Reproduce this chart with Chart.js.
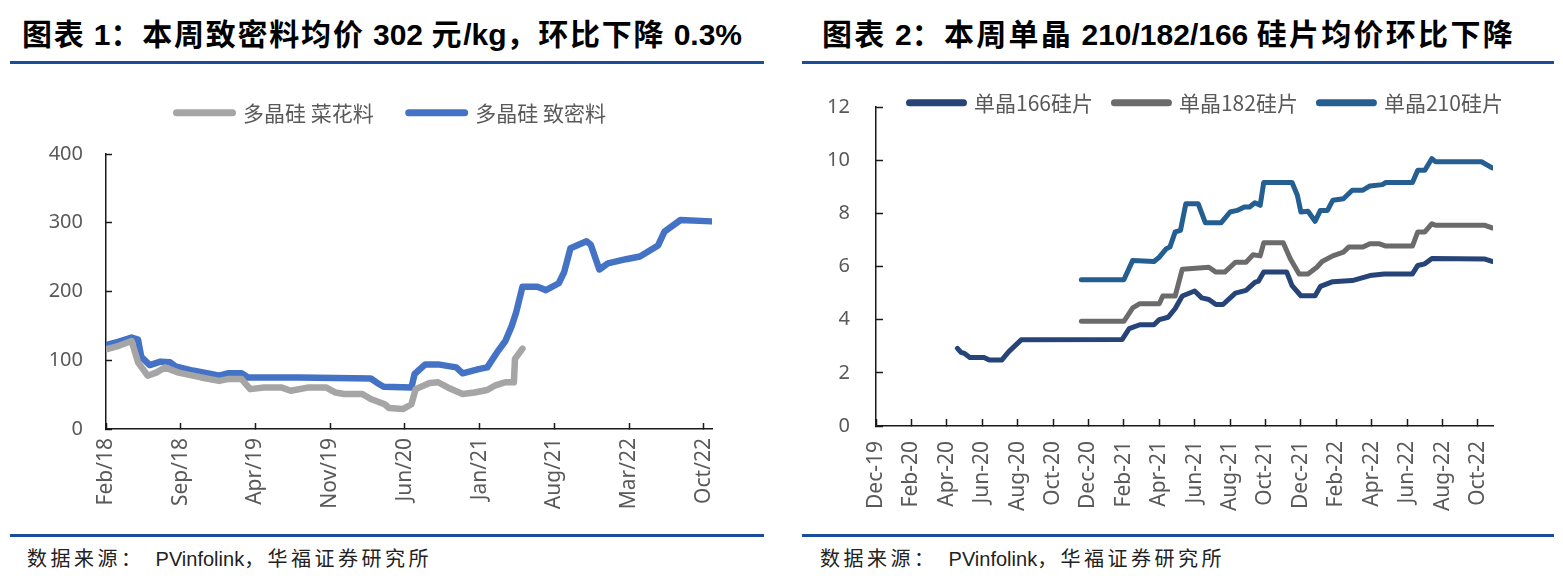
<!DOCTYPE html>
<html><head><meta charset="utf-8">
<script src="https://cdn.jsdelivr.net/npm/chart.js@4.4.1/dist/chart.umd.min.js"></script>
<style>
html,body{margin:0;padding:0;background:#fff;}
body{width:1563px;height:587px;position:relative;overflow:hidden;}
.title{position:absolute;top:16px;font-family:"Liberation Sans","Noto Sans CJK SC",sans-serif;font-weight:bold;font-size:30px;line-height:38px;color:#000;white-space:nowrap;}
.rule{position:absolute;height:3px;background:#1B4C9C;}
.src{position:absolute;top:546px;font-family:"Liberation Sans","Noto Sans CJK SC",sans-serif;font-size:20px;line-height:26px;color:#222;white-space:nowrap;}
.lat{letter-spacing:0 !important;}
canvas{position:absolute;}
</style></head><body>
<div class="title" id="t1" style="left:22px">图表<span class="lat"> 1</span>：本周致密料均价<span class="lat"> 302 </span>元<span class="lat">/kg</span>，环比下降<span class="lat"> 0.3%</span></div>
<div class="title" id="t2" style="left:822px">图表<span class="lat"> 2</span>：本周单晶<span class="lat"> 210/182/166 </span>硅片均价环比下降</div>
<div class="rule" style="left:10px;top:61px;width:754px"></div>
<div class="rule" style="left:802px;top:61px;width:752px"></div>
<div class="rule" style="left:10px;top:534px;width:754px"></div>
<div class="rule" style="left:802px;top:534px;width:752px"></div>
<div class="src" id="s1" style="left:27px">数据来源：<span class="lat">&nbsp;&nbsp;PVinfolink</span>，华福证券研究所</div>
<div class="src" id="s2" style="left:820px">数据来源：<span class="lat">&nbsp;&nbsp;PVinfolink</span>，华福证券研究所</div>
<canvas id="c1" width="740" height="460" style="left:10px;top:70px;width:740px;height:460px"></canvas>
<canvas id="c2" width="735" height="480" style="left:795px;top:50px;width:735px;height:480px"></canvas>
<script>
// ---------- Chart 1 data (x = months since Feb 2018) ----------
const c1TickLabels = ['Feb/18','Sep/18','Apr/19','Nov/19','Jun/20','Jan/21','Aug/21','Mar/22','Oct/22'];
const c1TickMonths = [0,7,14,21,28,35,42,49,56];
const c1YTicks = [0,100,200,300,400];
const c1SeriesNames = ['多晶硅 菜花料','多晶硅 致密料'];
const flowerX = [0,1.2,2.4,3.0,3.9,4.7,5.5,6.8,8.9,10.6,11.4,12.7,13.5,14.8,16.4,17.3,19.0,20.6,21.5,22.3,24.0,24.8,26.1,26.5,27.8,28.6,29.0,30.3,31.1,32.0,33.4,34.5,35.7,36.4,37.4,38.2,38.3,39.0];
const flowerY = [116,121,128,97,77.5,82,89.6,82,75,70,72.6,72.6,58,60.5,60.5,55.7,60.5,60.5,53,51,51,43.6,36,30.5,29,36,58,67,68,60.5,51,53,56.7,63,68,68,102,117];
const denseX = [0,1.2,2.4,3.0,3.3,4.1,5.1,6.0,6.5,8.1,9.8,10.6,11.4,12.7,13.3,18,24.8,25.4,26,28.6,28.9,29.9,31.1,32.8,33.4,34.9,35.7,36.6,37.4,38.0,38.4,39.0,40.4,41.2,42.4,42.9,43.5,45.0,45.4,46.2,47.0,48.7,50.0,51.7,52.3,53.8,56.7];
const denseY = [122,127,133,130,105,93,98,97,91,85,80,77.5,81,81,75,75,73.5,67,61.5,60.5,80,94,94,89.6,81,87,89.6,111,128,150,169,207,207,202,212,228,263,273,268,232,241,247,251,267,287,304,302];

// ---------- Chart 2 data (x = months since Dec 2019) ----------
const c2TickLabels = ['Dec-19','Feb-20','Apr-20','Jun-20','Aug-20','Oct-20','Dec-20','Feb-21','Apr-21','Jun-21','Aug-21','Oct-21','Dec-21','Feb-22','Apr-22','Jun-22','Aug-22','Oct-22'];
const c2TickMonths = [0,2,4,6,8,10,12,14,16,18,20,22,24,26,28,30,32,34];
const c2YTicks = [0,2,4,6,8,10,12];
const c2SeriesNames = ['单晶166硅片','单晶182硅片','单晶210硅片'];
const w166X = [4.6,4.8,5.0,5.3,6.1,6.4,7.1,7.5,8.2,13.9,14.3,14.9,15.7,16.0,16.5,16.9,17.3,18.0,18.4,18.8,19.2,19.6,20.3,20.9,21.4,21.6,21.9,23.2,23.5,24.0,24.8,25.1,25.8,26.9,27.9,28.7,30.3,30.6,31.0,31.4,34.4,34.8];
const w166Y = [2.92,2.77,2.73,2.58,2.58,2.48,2.48,2.8,3.24,3.25,3.66,3.81,3.81,4.0,4.09,4.42,4.89,5.08,4.82,4.76,4.57,4.57,5.0,5.1,5.4,5.45,5.79,5.79,5.28,4.9,4.9,5.25,5.43,5.47,5.66,5.72,5.72,6.04,6.1,6.3,6.28,6.19];
const w182X = [11.6,14.0,14.5,14.9,16.0,16.2,16.9,17.3,18.8,19.2,19.7,20.3,20.9,21.3,21.7,21.9,23.0,23.4,23.9,24.4,24.9,25.2,25.8,26.4,26.7,27.5,27.9,28.4,28.8,30.3,30.6,31.0,31.4,31.6,34.4,34.8];
const w182Y = [3.94,3.94,4.44,4.6,4.6,4.89,4.89,5.9,5.97,5.79,5.79,6.16,6.16,6.44,6.4,6.89,6.89,6.29,5.72,5.72,5.97,6.19,6.4,6.54,6.73,6.73,6.86,6.86,6.77,6.77,7.3,7.3,7.61,7.55,7.55,7.45];
const w210X = [11.6,14.0,14.5,15.7,16.0,16.4,16.6,16.9,17.2,17.5,18.2,18.6,19.5,20.0,20.4,20.8,21.1,21.4,21.7,21.9,23.5,23.8,24.0,24.4,24.8,25.1,25.5,25.8,26.4,26.9,27.5,27.9,28.6,28.8,30.3,30.6,31.0,31.4,31.6,34.2,34.8];
const w210Y = [5.5,5.5,6.23,6.19,6.35,6.67,6.73,7.3,7.36,8.36,8.36,7.65,7.65,8.05,8.11,8.24,8.24,8.4,8.3,9.16,9.16,8.68,8.05,8.08,7.7,8.11,8.11,8.49,8.55,8.87,8.87,9.03,9.08,9.16,9.16,9.62,9.62,10.06,9.94,9.94,9.71];

const pts = (xs, ys) => xs.map((x, i) => ({x, y: ys[i]}));

// fit title/source widths: spacing only on CJK characters
function fitWidth(id, target){
  const el = document.getElementById(id);
  let n = 0;
  el.childNodes.forEach(nd => { if (nd.nodeType === 3) n += nd.textContent.length; });
  const w = el.getBoundingClientRect().width;
  el.style.letterSpacing = Math.max(0, (target - w) / n) + 'px';
}
fitWidth('t1', 720); fitWidth('t2', 693); fitWidth('s1', 405); fitWidth('s2', 405);

const TICK_FONT = {family: '"Noto Sans", "Noto Sans CJK SC", sans-serif', size: 20};
const XTICK_FONT = {family: '"Noto Sans", "Noto Sans CJK SC", sans-serif', size: 21};
const LEG_FONT = {family: '"Noto Sans CJK SC", "Noto Sans", sans-serif', size: 21};
const AXIS = '#1a1a1a';

const legendPlace = {
  id: 'legendPlace',
  afterLayout(chart, args, opts) {
    const l = chart.legend; if (!l) return;
    const w = l.width, h = l.height;
    l.left = opts.x; l.right = opts.x + w;
    l.top = opts.y; l.bottom = opts.y + h;
  }
};

function lineDataset(label, data, color, width) {
  return {label, data, borderColor: color, backgroundColor: color, borderWidth: width,
    pointRadius: 0, pointHoverRadius: 0, tension: 0, fill: false,
    borderCapStyle: 'round', borderJoinStyle: 'round'};
}

function makeOptions(cfg) {
  return {
    responsive: false, animation: false, devicePixelRatio: 1,
    layout: {padding: cfg.padding},
    plugins: {
      tooltip: {enabled: false},
      legend: {
        display: true, position: 'top', align: 'start',
        labels: {
          usePointStyle: true, pointStyle: 'line', pointStyleWidth: cfg.legBox,
          boxHeight: 21, padding: cfg.legPad, color: '#595959', font: LEG_FONT,
          generateLabels(chart) {
            const items = Chart.defaults.plugins.legend.labels.generateLabels(chart);
            items.forEach(it => { it.lineWidth = 7; it.lineCap = 'round'; it.pointStyle = 'line'; });
            return items;
          }
        }
      },
      legendPlace: cfg.legPos
    },
    scales: {
      x: {
        type: 'linear', min: 0, max: cfg.xMax,
        afterBuildTicks(s) { s.ticks = cfg.xTicks.map(v => ({value: v})); },
        afterFit(s) { s.height = cfg.xHeight; },
        ticks: {
          autoSkip: false, maxRotation: 90, minRotation: 90, padding: cfg.xPad,
          color: '#595959', font: XTICK_FONT,
          callback(v) { const i = cfg.xTicks.indexOf(v); return i >= 0 ? cfg.xLabels[i] : ''; }
        },
        grid: {display: true, drawOnChartArea: false, drawTicks: true, tickLength: -cfg.tl, tickColor: AXIS, tickWidth: 1.5},
        border: {display: true, color: AXIS, width: 1.5}
      },
      y: {
        type: 'linear', min: 0, max: cfg.yMax,
        afterBuildTicks(s) { s.ticks = cfg.yTicks.map(v => ({value: v})); },
        afterFit(s) { s.width = cfg.yWidth; },
        ticks: {padding: cfg.yPad, color: '#595959', font: TICK_FONT},
        grid: {display: true, drawOnChartArea: false, drawTicks: true, tickLength: -cfg.tl, tickColor: AXIS, tickWidth: 1.5},
        border: {display: true, color: AXIS, width: 1.5}
      }
    }
  };
}

new Chart(document.getElementById('c1'), {
  type: 'line',
  plugins: [legendPlace],
  data: {datasets: [
    lineDataset(c1SeriesNames[0], pts(flowerX, flowerY), '#A5A5A5', 6.5),
    lineDataset(c1SeriesNames[1], pts(denseX, denseY), '#4472C4', 6.5)
  ]},
  options: makeOptions({
    padding: {top: 18, right: 38, left: 0, bottom: 0},
    legBox: 56, legPad: 35, legPos: {x: 131.5, y: -2.8},
    xMax: 56.75, xTicks: c1TickMonths, xLabels: c1TickLabels, xHeight: 101, xPad: 15,
    yMax: 400, yTicks: c1YTicks, yWidth: 96, yPad: 29, tl: 6
  })
});

new Chart(document.getElementById('c2'), {
  type: 'line',
  plugins: [legendPlace],
  data: {datasets: [
    lineDataset(c2SeriesNames[0], pts(w166X, w166Y), '#264478', 5),
    lineDataset(c2SeriesNames[1], pts(w182X, w182Y), '#6B6B6B', 5),
    lineDataset(c2SeriesNames[2], pts(w210X, w210Y), '#255E91', 5)
  ]},
  options: makeOptions({
    padding: {top: 4.5, right: 37, left: 0, bottom: 0},
    legBox: 54, legPad: 21.5, legPos: {x: 93, y: 20.7},
    xMax: 34.85, xTicks: c2TickMonths, xLabels: c2TickLabels, xHeight: 104, xPad: 22,
    yMax: 12, yTicks: c2YTicks, yWidth: 81, yPad: 33, tl: 7
  })
});
</script>
</body></html>
